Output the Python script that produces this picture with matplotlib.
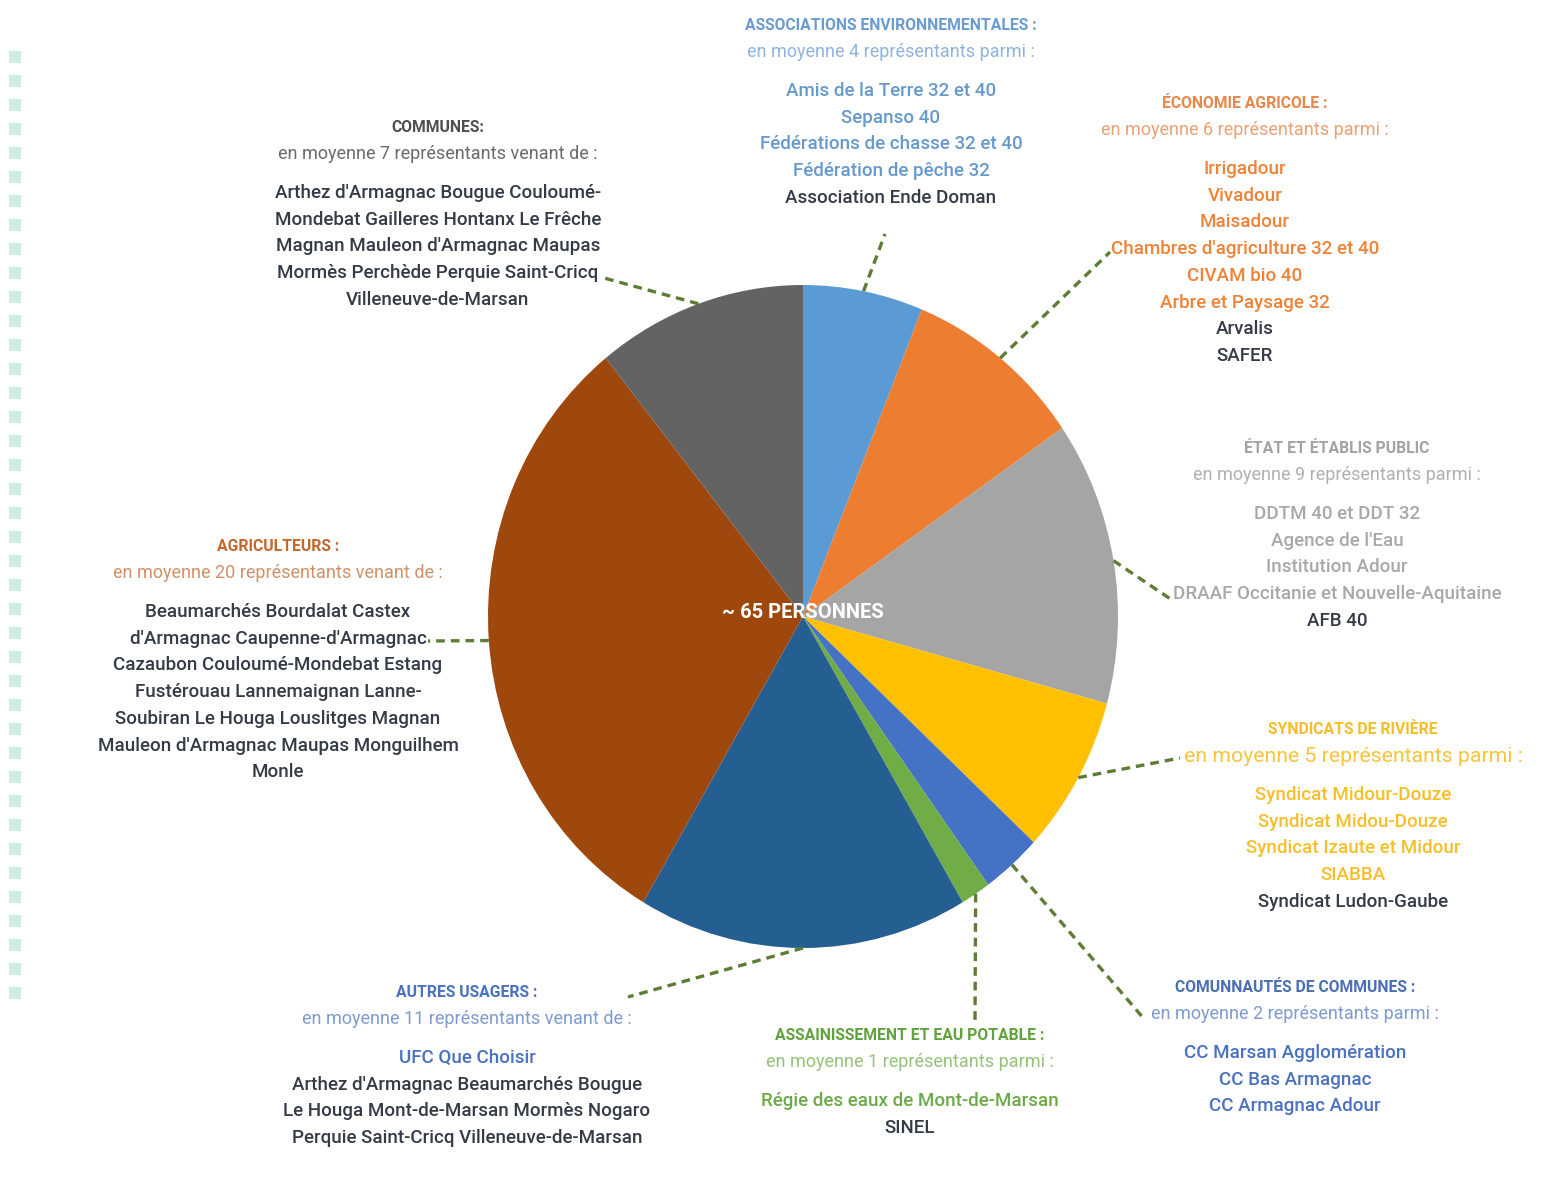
import numpy as np
import matplotlib.pyplot as plt
from matplotlib import font_manager

# ---- data ----
categories = ["Associations environnementales", "Économie agricole", "État et établis public",
              "Syndicats de rivière", "Communautés de communes", "Assainissement et eau potable",
              "Autres usagers", "Agriculteurs", "Communes"]
representants = [4, 6, 9, 5, 2, 1, 11, 20, 7]
slice_colors = ["#5B9BD5", "#ED7D31", "#A5A5A5", "#FFC000", "#4472C4",
                "#70AD47", "#255E91", "#9E480E", "#636363"]
center_label = "~ 65 PERSONNES"

titles = ["ASSOCIATIONS ENVIRONNEMENTALES :", "ÉCONOMIE AGRICOLE :", "ÉTAT ET ÉTABLIS PUBLIC",
          "SYNDICATS DE RIVIÈRE", "COMUNNAUTÉS DE COMMUNES :", "ASSAINISSEMENT ET EAU POTABLE :",
          "AUTRES USAGERS :", "AGRICULTEURS :", "COMMUNES:"]
subtitles = ["en moyenne 4 représentants parmi :", "en moyenne 6 représentants parmi :",
             "en moyenne 9 représentants parmi :", "en moyenne 5 représentants parmi :",
             "en moyenne 2 représentants parmi :", "en moyenne 1 représentants parmi :",
             "en moyenne 11 représentants venant de :", "en moyenne 20 représentants venant de :",
             "en moyenne 7 représentants venant de :"]
members = [
    ["Amis de la Terre 32 et 40", "Sepanso 40", "Fédérations de chasse 32 et 40",
     "Fédération de pêche 32", "Association Ende Doman"],
    ["Irrigadour", "Vivadour", "Maisadour", "Chambres d'agriculture 32 et 40", "CIVAM bio 40",
     "Arbre et Paysage 32", "Arvalis", "SAFER"],
    ["DDTM 40 et DDT 32", "Agence de l'Eau", "Institution Adour",
     "DRAAF Occitanie et Nouvelle-Aquitaine", "AFB 40"],
    ["Syndicat Midour-Douze", "Syndicat Midou-Douze", "Syndicat Izaute et Midour", "SIABBA",
     "Syndicat Ludon-Gaube"],
    ["CC Marsan Agglomération", "CC Bas Armagnac", "CC Armagnac Adour"],
    ["Régie des eaux de Mont-de-Marsan", "SINEL"],
    ["UFC Que Choisir", "Arthez d'Armagnac Beaumarchés Bougue",
     "Le Houga Mont-de-Marsan Mormès Nogaro", "Perquie Saint-Cricq Villeneuve-de-Marsan"],
    ["Beaumarchés Bourdalat Castex", "d'Armagnac Caupenne-d'Armagnac",
     "Cazaubon Couloumé-Mondebat Estang", "Fustérouau Lannemaignan Lanne-",
     "Soubiran Le Houga Louslitges Magnan", "Mauleon d'Armagnac Maupas Monguilhem", "Monle"],
    ["Arthez d'Armagnac Bougue Couloumé-", "Mondebat Gailleres Hontanx Le Frêche",
     "Magnan Mauleon d'Armagnac Maupas", "Mormès Perchède Perquie Saint-Cricq",
     "Villeneuve-de-Marsan"],
]
# how many member lines are written in the category colour (the rest are dark)
n_colored = [4, 6, 4, 4, 3, 1, 1, 0, 0]

title_colors = ["#6a9bd1", "#e8874a", "#a3a3a3", "#f5bd2a", "#4a6fb5", "#62a23e",
                "#4a72c0", "#c4692e", "#4f4f4f"]
sub_colors = ["#8fb3dd", "#e9a273", "#b0b0b0", "#f6c53c", "#7d9bd0", "#96c27a",
              "#7d9bd0", "#d29066", "#6a6a6a"]
item_colors = ["#6699cc", "#ee8236", "#a8a8a8", "#f6bf2a", "#4a72c0", "#6caa48",
               "#4a72c0", "#c4692e", "#555555"]
dark = "#343b47"

# ---- layout (pixels) ----
W, H = 1556, 1195
block_x = [891, 1245, 1337, 1353, 1295, 910, 467, 278, 438]
block_y = [25, 103, 448, 729, 987, 1035, 992, 546, 127]
leader_end = [(885, 234), (1110, 252), (1172, 600), (1180, 758), (1145, 1020),
              (975, 1022), (628, 997), (428, 641), (604, 278)]

installed = {f.name for f in font_manager.fontManager.ttflist}
body = "Roboto" if "Roboto" in installed else "DejaVu Sans"
fams = [body, "DejaVu Sans"]

fig = plt.figure(figsize=(W / 100, H / 100), dpi=100)
fig.patch.set_facecolor("white")

# pie axes: the reference pie is slightly taller than wide
px0, px1, py0, py1 = 488, 1118, 285, 948
pie_ax = fig.add_axes([px0 / W, 1 - py1 / H, (px1 - px0) / W, (py1 - py0) / H])
wedges, _ = pie_ax.pie(representants, colors=slice_colors, startangle=90,
                       counterclock=False, radius=1)
pie_ax.set_aspect("auto")
pie_ax.set_xlim(-1, 1)
pie_ax.set_ylim(-1, 1)
pie_ax.axis("off")
pie_ax.text(0, 0.012, center_label, color="white", fontsize=14.5, fontweight="bold",
            family=fams, ha="center", va="center")

bg = fig.add_axes([0, 0, 1, 1], zorder=3)
bg.set_xlim(0, W)
bg.set_ylim(H, 0)
bg.axis("off")
bg.patch.set_alpha(0)

# decorative squares on the left
for y in np.arange(51, 1000, 24):
    bg.add_patch(plt.Rectangle((9, y), 12, 12, color="#cdeee0", lw=0))

# leader lines from the middle of each wedge edge
to_bg = bg.transData.inverted()
for w, end in zip(wedges, leader_end):
    mid = np.deg2rad((w.theta1 + w.theta2) / 2)
    start = to_bg.transform(pie_ax.transData.transform((np.cos(mid), np.sin(mid))))
    bg.plot([start[0], end[0]], [start[1], end[1]], ls=(0, (2.6, 1.8)), lw=2.4,
            color="#5e7d34", solid_capstyle="butt")

# text blocks
for i in range(len(categories)):
    x, y = block_x[i], block_y[i]
    bg.text(x, y, titles[i], color=title_colors[i], fontsize=11.3, fontweight="bold",
            family=fams, ha="center", va="center")
    sub_size = 15.3 if i == 3 else 13
    bg.text(x, y + 27, subtitles[i], color=sub_colors[i], fontsize=sub_size,
            fontweight="normal", family=fams, ha="center", va="center")
    for k, line in enumerate(members[i]):
        col = item_colors[i] if k < n_colored[i] else dark
        bg.text(x, y + 66 + 26.7 * k, line, color=col, fontsize=13.5, fontweight="medium",
                family=fams, ha="center", va="center")

fig.savefig("out.png", dpi=100, facecolor="white")
